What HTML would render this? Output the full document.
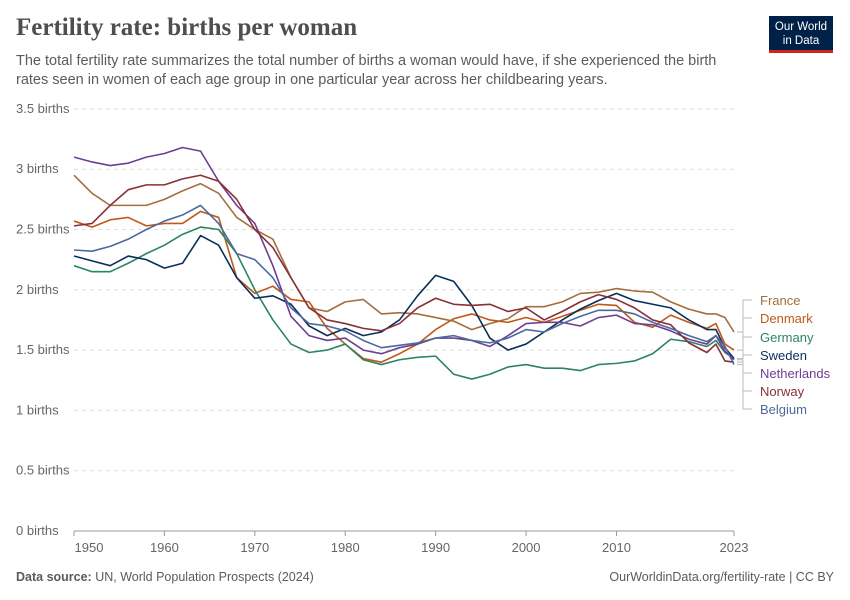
<!DOCTYPE html>
<html><head><meta charset="utf-8"><style>
body{margin:0;background:#fff;font-family:"Liberation Sans",sans-serif;}
#wrap{position:relative;width:850px;height:600px;overflow:hidden;}
h1{position:absolute;left:16px;top:14px;margin:0;font:bold 25px "Liberation Serif",serif;color:#4e4e4e;}
#sub{position:absolute;left:16px;top:52px;width:728px;font-size:14.5px;line-height:19px;color:#5b5b5b;}
#logo{position:absolute;left:769px;top:16px;width:64px;height:37px;background:#002147;color:#fff;font-size:11.5px;text-align:center;line-height:14px;padding-top:4px;box-sizing:border-box;border-bottom:3px solid #ce261e;}
#foot1{position:absolute;left:16px;top:570px;font-size:12.5px;color:#5b5b5b;}
#foot2{position:absolute;right:16px;top:570px;font-size:12.5px;color:#5b5b5b;}
</style></head><body>
<div id="wrap">
<h1>Fertility rate: births per woman</h1>
<div id="sub">The total fertility rate summarizes the total number of births a woman would have, if she experienced the birth rates seen in women of each age group in one particular year across her childbearing years.</div>
<div id="logo">Our World<br>in Data</div>
<svg id="svg" width="850" height="600" style="position:absolute;left:0;top:0"></svg>
<div id="foot1"><b>Data source:</b> UN, World Population Prospects (2024)</div>
<div id="foot2">OurWorldinData.org/fertility-rate | CC BY</div>
</div>
<script>
const years=[1950,1952,1954,1956,1958,1960,1962,1964,1966,1968,1970,1972,1974,1976,1978,1980,1982,1984,1986,1988,1990,1992,1994,1996,1998,2000,2002,2004,2006,2008,2010,2012,2014,2016,2018,2020,2021,2022,2023];
const seriesNames=["France","Denmark","Germany","Sweden","Netherlands","Norway","Belgium"];
const france=[2.95,2.8,2.7,2.7,2.7,2.75,2.82,2.88,2.8,2.6,2.5,2.42,2.1,1.85,1.82,1.9,1.92,1.8,1.81,1.8,1.77,1.74,1.67,1.72,1.76,1.86,1.86,1.9,1.97,1.98,2.01,1.99,1.98,1.9,1.84,1.8,1.8,1.77,1.65];
const denmark=[2.57,2.52,2.58,2.6,2.53,2.55,2.55,2.65,2.6,2.1,1.97,2.03,1.92,1.9,1.68,1.55,1.43,1.4,1.47,1.55,1.67,1.76,1.8,1.75,1.73,1.77,1.73,1.78,1.83,1.88,1.87,1.73,1.69,1.79,1.73,1.68,1.72,1.55,1.5];
const germany=[2.2,2.15,2.15,2.22,2.3,2.37,2.46,2.52,2.5,2.3,2.0,1.75,1.55,1.48,1.5,1.55,1.42,1.38,1.42,1.44,1.45,1.3,1.26,1.3,1.36,1.38,1.35,1.35,1.33,1.38,1.39,1.41,1.47,1.59,1.57,1.53,1.58,1.48,1.43];
const sweden=[2.28,2.24,2.2,2.28,2.25,2.18,2.22,2.45,2.37,2.1,1.93,1.95,1.88,1.7,1.62,1.68,1.62,1.65,1.75,1.95,2.12,2.07,1.87,1.6,1.5,1.55,1.65,1.75,1.84,1.91,1.97,1.91,1.88,1.85,1.75,1.67,1.67,1.52,1.43];
const netherlands=[3.1,3.06,3.03,3.05,3.1,3.13,3.18,3.15,2.9,2.7,2.55,2.2,1.78,1.62,1.58,1.6,1.5,1.47,1.52,1.55,1.6,1.6,1.58,1.53,1.62,1.72,1.73,1.73,1.7,1.77,1.79,1.72,1.71,1.66,1.59,1.55,1.62,1.49,1.42];
const norway=[2.53,2.55,2.7,2.83,2.87,2.87,2.92,2.95,2.9,2.75,2.5,2.35,2.1,1.85,1.75,1.72,1.68,1.66,1.72,1.85,1.93,1.88,1.87,1.88,1.82,1.85,1.75,1.82,1.9,1.96,1.92,1.85,1.75,1.71,1.56,1.48,1.55,1.41,1.4];
const belgium=[2.33,2.32,2.36,2.42,2.5,2.57,2.62,2.7,2.55,2.3,2.25,2.1,1.85,1.72,1.7,1.66,1.58,1.52,1.54,1.56,1.6,1.62,1.58,1.56,1.6,1.67,1.65,1.72,1.78,1.83,1.83,1.8,1.73,1.68,1.62,1.57,1.62,1.53,1.38];
const yTicks=[0,0.5,1,1.5,2,2.5,3,3.5];
const yTickLabels=["0 births","0.5 births","1 births","1.5 births","2 births","2.5 births","3 births","3.5 births"];
const xTicks=[1950,1960,1970,1980,1990,2000,2010,2023];
const allSeries=[france,denmark,germany,sweden,netherlands,norway,belgium];
const colors=["#a2703e","#c05917","#2c8465","#0a2e5c","#6d3e91","#883039","#4c6a9c"];
const NS="http://www.w3.org/2000/svg";
const svg=document.getElementById('svg');
const x=y=>74+(y-1950)*(660/73);
const yv=v=>531-v*120.6;
function mk(t,a){const e=document.createElementNS(NS,t);for(const k in a)e.setAttribute(k,a[k]);svg.appendChild(e);return e;}
yTicks.forEach((t,i)=>{
  if(t>0){const g=mk('line',{x1:74,x2:734,y1:yv(t),y2:yv(t),stroke:'#ddd','stroke-dasharray':'4,4'});
  
  }
  const l=mk('text',{x:16,y:yv(t)+4,'font-size':13,fill:'#666','font-family':'Liberation Sans,sans-serif'});
  l.textContent=yTickLabels[i];
  
  
});
const ax=mk('line',{x1:74,x2:734,y1:531,y2:531,stroke:'#999'});


xTicks.forEach(t=>{
  mk('line',{x1:x(t),x2:x(t),y1:531,y2:536,stroke:'#999'});
  const l=mk('text',{x:t===1950?x(t)+15:x(t),y:552,'font-size':13,fill:'#666','text-anchor':'middle','font-family':'Liberation Sans,sans-serif'});
  l.textContent=t;
  
  
});
allSeries.forEach((s,i)=>{
  const p=mk('polyline',{points:s.map((v,j)=>x(years[j])+','+yv(v)).join(' '),fill:'none',stroke:colors[i],'stroke-width':1.6,'stroke-linejoin':'round'});
  
  
});
const labelY=[305,323,342,360,378,396,414];
allSeries.forEach((s,i)=>{
  const ey=yv(s[s.length-1]), ly=labelY[i]-5;
  mk('path',{d:`M737 ${ey} H743 V${ly} H752`,fill:'none',stroke:'#bbb','stroke-width':1});
  const l=mk('text',{x:760,y:labelY[i],'font-size':13,fill:colors[i],'font-family':'Liberation Sans,sans-serif'});
  l.textContent=seriesNames[i];
  
  
});
</script>
</body></html>
